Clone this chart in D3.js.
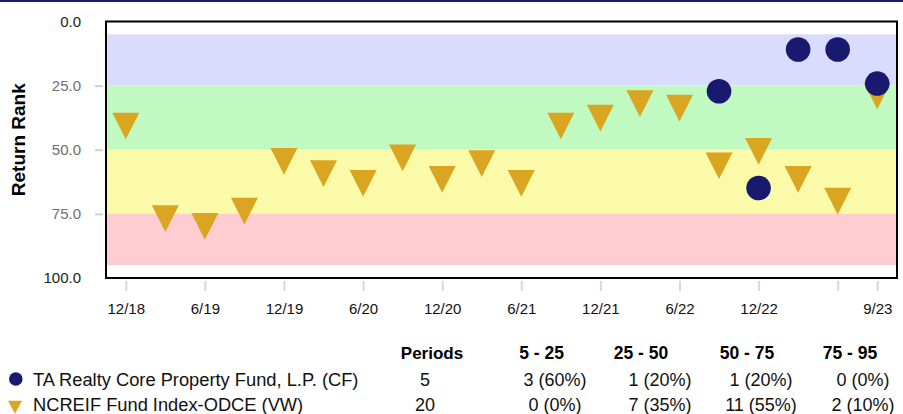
<!DOCTYPE html>
<html>
<head>
<meta charset="utf-8">
<script src="https://cdn.jsdelivr.net/npm/d3@7"></script>
<style>
  html, body { margin: 0; padding: 0; background: #fff; }
  svg { display: block; font-family: "Liberation Sans", Arial, sans-serif; }
</style>
</head>
<body>
<svg id="chart" width="903" height="414"></svg>
<script>
// ---- data ----
const quarters = ["12/18","3/19","6/19","9/19","12/19","3/20","6/20","9/20","12/20","3/21",
                  "6/21","9/21","12/21","3/22","6/22","9/22","12/22","3/23","6/23","9/23"];
const fundRank  = [null,null,null,null,null,null,null,null,null,null,
                   null,null,null,null,null,27.2,64.9,10.9,10.9,24.2];
const indexRank = [39.0,75.1,78.1,72.2,52.8,57.6,61.4,51.4,59.8,53.7,
                   61.4,39.0,35.9,30.3,32.0,54.5,48.9,59.8,68.3,27.3];
const xTickQuarters = ["12/18","6/19","12/19","6/20","12/20","6/21","12/21","6/22","12/22","6/23","9/23"];
const xTickLabels   = ["12/18","6/19","12/19","6/20","12/20","6/21","12/21","6/22","12/22","","9/23"];
const yTicks = [0, 25, 50, 75, 100];
const bandEdges = [5, 25, 50, 75, 95];
const bandColors = ["#dadcfe", "#c1fac0", "#fafaa8", "#fdcdd1"];
const seriesNames = ["TA Realty Core Property Fund, L.P. (CF)", "NCREIF Fund Index-ODCE (VW)"];
const seriesColors = ["#191970", "#daa520"];
const rangeLabels = ["5 - 25", "25 - 50", "50 - 75", "75 - 95"];
const periods = [5, 20];
const counts = [[3, 1, 1, 0], [0, 7, 11, 2]];

// ---- layout ----
const svg = d3.select("#chart");
const W = 903;
const plot = { left: 106, right: 897, top: 21.5, bottom: 278 };

const x = d3.scaleLinear().domain([-0.5, quarters.length - 0.5]).range([plot.left, plot.right]);
const y = d3.scaleLinear().domain([0, 100]).range([plot.top, plot.bottom]);

// top rule
svg.append("rect").attr("x", 0).attr("y", 0).attr("width", W).attr("height", 2).attr("fill", "#191970");

// bands
svg.append("g").selectAll("rect")
  .data(bandColors)
  .join("rect")
  .attr("x", plot.left)
  .attr("width", plot.right - plot.left)
  .attr("y", (d, i) => y(bandEdges[i]))
  .attr("height", (d, i) => y(bandEdges[i + 1]) - y(bandEdges[i]))
  .attr("fill", d => d);

// y axis
const yAxis = d3.axisLeft(y).tickValues(yTicks).tickFormat(d3.format(".1f")).tickSize(8).tickPadding(14);
const gy = svg.append("g").attr("transform", `translate(${plot.left - 3},0)`).call(yAxis);
gy.select(".domain").remove();
gy.selectAll(".tick line").attr("stroke", "#d0d0d0").attr("stroke-width", 2)
  .attr("display", d => (d === 0 || d === 100) ? "none" : null);
gy.selectAll(".tick text").attr("font-size", 15).attr("font-family", "Liberation Sans, Arial, sans-serif")
  .attr("fill", d => (d === 0 || d === 100) ? "#222" : "#6e6e6e");

// x axis
const xAxis = d3.axisBottom(x)
  .tickValues(xTickQuarters.map(q => quarters.indexOf(q)))
  .tickFormat((d, i) => xTickLabels[i])
  .tickSize(10).tickPadding(12);
const gx = svg.append("g").attr("transform", `translate(0,${plot.bottom + 3})`).call(xAxis);
gx.select(".domain").remove();
gx.selectAll(".tick line").attr("stroke", "#d8d8d8").attr("stroke-width", 2);
gx.selectAll(".tick text").attr("font-size", 15).attr("fill", "#111").attr("font-family", "Liberation Sans, Arial, sans-serif");

// frame
svg.append("rect")
  .attr("x", plot.left).attr("y", plot.top)
  .attr("width", plot.right - plot.left).attr("height", plot.bottom - plot.top)
  .attr("fill", "none").attr("stroke", "#000").attr("stroke-width", 2);

// y title
svg.append("text")
  .attr("transform", `translate(25,${(y(0) + y(100)) / 2 - 10}) rotate(-90)`)
  .attr("text-anchor", "middle")
  .attr("font-size", 19).attr("font-weight", "bold").attr("fill", "#000")
  .text("Return Rank");

// triangle (pointing down, centroid at origin)
function triPath(w, h) {
  const p = d3.path();
  p.moveTo(-w / 2, -h / 3);
  p.lineTo(w / 2, -h / 3);
  p.lineTo(0, 2 * h / 3);
  p.closePath();
  return p.toString();
}

// index series
svg.append("g").selectAll("path")
  .data(indexRank.map((v, i) => ({ i, v })).filter(d => d.v != null))
  .join("path")
  .attr("d", triPath(27, 26.7))
  .attr("transform", d => `translate(${x(d.i)},${y(d.v)})`)
  .attr("fill", seriesColors[1]);

// fund series
svg.append("g").selectAll("circle")
  .data(fundRank.map((v, i) => ({ i, v })).filter(d => d.v != null))
  .join("circle")
  .attr("cx", d => x(d.i)).attr("cy", d => y(d.v))
  .attr("r", 12.3)
  .attr("fill", seriesColors[0]);

// ---- legend table ----
const headerY = 359;
const rowY = [386, 411];
const periodsHeaderX = 432;
const periodsX = 425;
const colHeaderX = [541.5, 641, 747, 850];
const colValX = [555, 660, 761, 863];

const lg = svg.append("g");
lg.append("text").attr("x", periodsHeaderX).attr("y", headerY).attr("text-anchor", "middle")
  .attr("font-size", 17).attr("font-weight", "bold").text("Periods");
lg.selectAll("text.rh").data(rangeLabels).join("text").attr("class", "rh")
  .attr("x", (d, i) => colHeaderX[i]).attr("y", headerY).attr("text-anchor", "middle")
  .attr("font-size", 17.5).attr("font-weight", "bold").text(d => d);

seriesNames.forEach((name, r) => {
  const yy = rowY[r];
  if (r === 0) {
    lg.append("circle").attr("cx", 15.8).attr("cy", yy - 7).attr("r", 6.8).attr("fill", seriesColors[0]);
  } else {
    lg.append("path").attr("d", triPath(14, 13)).attr("transform", `translate(15,${yy - 6})`).attr("fill", seriesColors[1]);
  }
  lg.append("text").attr("x", 33).attr("y", yy).attr("font-size", 18.3).attr("fill", "#111").text(name);
  lg.append("text").attr("x", periodsX).attr("y", yy).attr("text-anchor", "middle")
    .attr("font-size", 18).attr("fill", "#111").text(periods[r]);
  counts[r].forEach((c, k) => {
    lg.append("text").attr("x", colValX[k]).attr("y", yy).attr("text-anchor", "middle")
      .attr("font-size", 18).attr("fill", "#111")
      .text(`${c} (${Math.round(100 * c / periods[r])}%)`);
  });
});
</script>
</body>
</html>
